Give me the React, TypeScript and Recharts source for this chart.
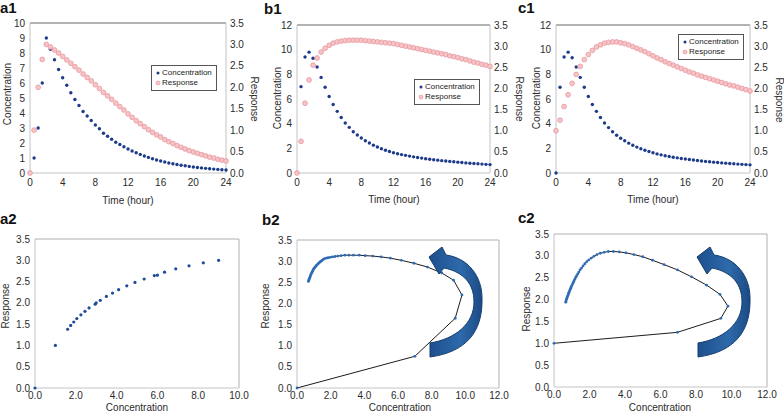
import React from 'react';
import { ScatterChart, Scatter, XAxis, YAxis, ReferenceLine, Legend } from 'recharts';

// sampling times (hours)
const time = [0, 0.5, 1, 1.5, 2, 2.5, 3, 3.5, 4, 4.5, 5, 5.5, 6, 6.5, 7, 7.5, 8, 8.5, 9, 9.5, 10, 10.5, 11, 11.5, 12,
  12.5, 13, 13.5, 14, 14.5, 15, 15.5, 16, 16.5, 17, 17.5, 18, 18.5, 19, 19.5, 20, 20.5, 21, 21.5, 22, 22.5, 23, 23.5, 24];

// panel a: direct response
const a1Conc = [0, 1, 3, 6, 9, 8.25, 7.55, 6.9, 6.35, 5.85, 5.35, 4.9, 4.5, 4.1, 3.8, 3.5, 3.2, 2.95, 2.65, 2.45, 2.25, 2.05, 1.9, 1.75, 1.6,
  1.47, 1.35, 1.24, 1.13, 1.04, 0.95, 0.87, 0.8, 0.73, 0.67, 0.62, 0.57, 0.52, 0.48, 0.44, 0.4, 0.37, 0.34, 0.31, 0.28, 0.26, 0.24, 0.22, 0.2];
const a1Resp = [0, 1.0, 2.0, 2.65, 3.0, 2.94, 2.87, 2.8, 2.72, 2.64, 2.56, 2.48, 2.4, 2.31, 2.23, 2.15, 2.06, 1.97, 1.88, 1.8, 1.72, 1.63, 1.55, 1.47, 1.38,
  1.3, 1.22, 1.15, 1.08, 1.01, 0.95, 0.89, 0.84, 0.78, 0.73, 0.69, 0.64, 0.6, 0.56, 0.52, 0.49, 0.46, 0.43, 0.4, 0.37, 0.35, 0.32, 0.3, 0.28];

// panel b: delayed response, baseline 0
const b1Conc = [0, 7.0, 9.4, 9.8, 9.3, 8.6, 7.75, 6.95, 6.2, 5.55, 5.0, 4.5, 4.05, 3.7, 3.35, 3.08, 2.84, 2.62, 2.43, 2.26, 2.11, 1.97, 1.85, 1.74, 1.64,
  1.56, 1.49, 1.43, 1.37, 1.31, 1.26, 1.21, 1.16, 1.12, 1.08, 1.04, 1.0, 0.97, 0.94, 0.91, 0.88, 0.85, 0.82, 0.79, 0.77, 0.75, 0.72, 0.7, 0.68];
const b1Resp = [0, 0.75, 1.65, 2.2, 2.55, 2.72, 2.86, 2.95, 3.02, 3.07, 3.1, 3.12, 3.13, 3.14, 3.14, 3.14, 3.14, 3.13, 3.12, 3.11, 3.1, 3.09, 3.08, 3.07, 3.06,
  3.04, 3.02, 3.0, 2.98, 2.96, 2.94, 2.92, 2.9, 2.88, 2.86, 2.84, 2.82, 2.8, 2.77, 2.75, 2.73, 2.7, 2.68, 2.65, 2.62, 2.6, 2.57, 2.55, 2.52];

// panel c: delayed response, baseline 1
const c1Conc = [0, 6.95, 9.4, 9.8, 9.35, 8.6, 7.75, 6.95, 6.2, 5.55, 5.0, 4.5, 4.05, 3.68, 3.35, 3.06, 2.82, 2.61, 2.42, 2.25, 2.1, 1.97, 1.85, 1.74, 1.64,
  1.55, 1.47, 1.4, 1.34, 1.28, 1.23, 1.18, 1.13, 1.09, 1.05, 1.01, 0.97, 0.94, 0.91, 0.88, 0.85, 0.82, 0.8, 0.77, 0.75, 0.72, 0.7, 0.68, 0.66];
const c1Resp = [1.0, 1.25, 1.57, 1.85, 2.12, 2.33, 2.52, 2.68, 2.8, 2.9, 2.98, 3.03, 3.07, 3.09, 3.1, 3.1, 3.08, 3.06, 3.03, 2.99, 2.95, 2.91, 2.87, 2.82, 2.77,
  2.72, 2.68, 2.63, 2.59, 2.55, 2.51, 2.47, 2.43, 2.39, 2.36, 2.32, 2.29, 2.26, 2.23, 2.2, 2.17, 2.14, 2.11, 2.08, 2.06, 2.03, 2.0, 1.97, 1.94];

const timeTicks = [0, 4, 8, 12, 16, 20, 24];
const concTicksA = [0, 1, 2, 3, 4, 5, 6, 7, 8, 9, 10];
const concTicksB = [0, 2, 4, 6, 8, 10, 12];
const respTicks = [0, 0.5, 1, 1.5, 2, 2.5, 3, 3.5];
const concAxisA2 = [0, 2, 4, 6, 8, 10];
const concAxisB2 = [0, 2, 4, 6, 8, 10, 12];

const FONT = '"Liberation Sans", Arial, sans-serif';
const INK = '#2b2b2b';
const AXIS = '#c4c4c4';
const tick = { fontSize: 10, fill: INK };

const pair = (xs: number[], ys: number[]) => xs.map((x, i) => ({ x, y: ys[i] }));
const fix1 = (v: number) => v.toFixed(1);

const ConcDot = (p: any) => <circle cx={p.cx} cy={p.cy} r={1.7} fill="#1d3b8b" />;
const RespDot = (p: any) => (
  <circle cx={p.cx} cy={p.cy} r={2.4} fill="#f6c4c7" stroke="#e58f96" strokeWidth={0.7} />
);
const LoopDot = (p: any) => <circle cx={p.cx} cy={p.cy} r={1.4} fill="#2f6bb4" />;
const A2Dot = (p: any) => <circle cx={p.cx} cy={p.cy} r={1.6} fill="#1f4b9a" />;

const LegendBox = () => (
  <div style={{ border: '1.5px solid #555', background: '#fff', padding: '2px 4px 2px 2px', fontSize: 8, lineHeight: '10px', color: '#222', width: 'max-content' }}>
    <div style={{ display: 'flex', alignItems: 'center' }}>
      <svg width={8} height={10}><circle cx={4} cy={5} r={1.5} fill="#1d3b8b" /></svg>
      <span>Concentration</span>
    </div>
    <div style={{ display: 'flex', alignItems: 'center' }}>
      <svg width={8} height={10}><circle cx={4} cy={5} r={2} fill="#f6c4c7" stroke="#e58f96" strokeWidth={0.6} /></svg>
      <span>Response</span>
    </div>
  </div>
);

interface TimeProps {
  left: number; width: number; yLeft: number; yRight: number; top: number;
  cMax: number; cTicks: number[]; conc: number[]; resp: number[]; lx: number; ly: number;
}

const TimePanel: React.FC<TimeProps> = ({ left, width, yLeft, yRight, top, cMax, cTicks, conc, resp, lx, ly }) => (
  <div style={{ position: 'absolute', left, top: 0 }}>
    <ScatterChart width={width} height={210} margin={{ top, right: 0, bottom: 0, left: 0 }}>
      <XAxis type="number" dataKey="x" domain={[0, 24]} ticks={timeTicks} interval={0} height={37} tickLine={false}
        tickSize={4} tickMargin={2} axisLine={{ stroke: AXIS }} tick={tick} />
      <YAxis yAxisId="c" type="number" dataKey="y" domain={[0, cMax]} ticks={cTicks} interval={0} width={yLeft} tickLine={false}
        tickSize={3} tickMargin={2} axisLine={{ stroke: AXIS }} tick={tick} />
      <YAxis yAxisId="r" orientation="right" type="number" dataKey="y" domain={[0, 3.5]} ticks={respTicks} interval={0} width={yRight}
        tickLine={false} tickSize={2} tickMargin={2} axisLine={{ stroke: AXIS }} tick={tick} tickFormatter={fix1} />
      <ReferenceLine yAxisId="c" y={cMax} stroke="#9a9a9a" strokeWidth={1.5} />
      <Legend layout="horizontal" verticalAlign="middle" align="center" content={() => <LegendBox />}
        wrapperStyle={{ left: lx, top: ly, width: 'auto', height: 'auto' }} />
      <Scatter name="Concentration" yAxisId="c" data={pair(time, conc)} shape={ConcDot} isAnimationActive={false} />
      <Scatter name="Response" yAxisId="r" data={pair(time, resp)} shape={RespDot} isAnimationActive={false} />
    </ScatterChart>
  </div>
);

interface LoopProps {
  left: number; width: number; yWidth: number; right: number; top: number; xH: number;
  xMax: number; xTicks: number[]; points: { x: number; y: number }[]; joined: boolean;
}

const LoopPanel: React.FC<LoopProps> = ({ left, width, yWidth, right, top, xH, xMax, xTicks, points, joined }) => (
  <div style={{ position: 'absolute', left, top: 210 }}>
    <ScatterChart width={width} height={204} margin={{ top, right, bottom: 0, left: 0 }}>
      <XAxis type="number" dataKey="x" domain={[0, xMax]} ticks={xTicks} interval={0} height={xH} tickLine={false}
        tickSize={2} tickMargin={2} axisLine={{ stroke: AXIS }} tick={tick} tickFormatter={fix1} />
      <YAxis type="number" dataKey="y" domain={[0, 3.5]} ticks={respTicks} interval={0} width={yWidth} tickLine={false}
        tickSize={3} tickMargin={2} axisLine={{ stroke: AXIS }} tick={tick} tickFormatter={fix1} />
      <ReferenceLine y={3.5} stroke="#b0b0b0" />
      <ReferenceLine x={xMax} stroke="#b0b0b0" />
      <Scatter data={points} shape={joined ? LoopDot : A2Dot}
        line={joined ? { stroke: '#1c1c1c', strokeWidth: 1 } : undefined} isAnimationActive={false} />
    </ScatterChart>
  </div>
);

const arrowPath =
  'M429,257 L442,247 L446,255 C468,258 482,276 482,298 C483,332 466,352 430,357 L430,343 ' +
  'C455,339 474,324 474,302 C474,284 464,272 444,268 L439,274 Z';

const Title = ({ x, y, rot = 0, children }: { x: number; y: number; rot?: number; children: string }) => (
  <text x={x} y={y} textAnchor="middle" dominantBaseline="central" fontSize={10} fill={INK}
    transform={rot ? `rotate(${rot}, ${x}, ${y})` : undefined}>{children}</text>
);

const Tag = ({ x, y, children }: { x: number; y: number; children: string }) => (
  <text x={x} y={y} fontSize={15} fontWeight="bold" fill="#111">{children}</text>
);

export default function App() {
  const a2Points = pair(a1Conc.slice(0, 25), a1Resp.slice(0, 25));
  return (
    <div style={{ position: 'absolute', left: 0, top: 0, width: 784, height: 414, background: '#fff', fontFamily: FONT, overflow: 'hidden' }}>
      <TimePanel left={0} width={262} yLeft={30} yRight={36} top={23} cMax={10} cTicks={concTicksA}
        conc={a1Conc} resp={a1Resp} lx={151} ly={65} />
      <TimePanel left={262} width={262} yLeft={35} yRight={34} top={25} cMax={12} cTicks={concTicksB}
        conc={b1Conc} resp={b1Resp} lx={152} ly={79} />
      <TimePanel left={524} width={260} yLeft={32} yRight={34} top={25} cMax={12} cTicks={concTicksB}
        conc={c1Conc} resp={c1Resp} lx={154} ly={34} />

      <LoopPanel left={0} width={262} yWidth={35} right={23} top={29} xH={26} xMax={10} xTicks={concAxisA2}
        points={a2Points} joined={false} />
      <LoopPanel left={262} width={262} yWidth={35} right={25} top={30} xH={26} xMax={12} xTicks={concAxisB2}
        points={pair(b1Conc, b1Resp)} joined />
      <LoopPanel left={524} width={260} yWidth={30} right={17} top={24} xH={27} xMax={12} xTicks={concAxisB2}
        points={pair(c1Conc, c1Resp)} joined />

      <svg width={784} height={414} style={{ position: 'absolute', left: 0, top: 0, pointerEvents: 'none' }}>
        <Tag x={0} y={13}>a1</Tag>
        <Tag x={264} y={14}>b1</Tag>
        <Tag x={518} y={13}>c1</Tag>
        <Tag x={0} y={224}>a2</Tag>
        <Tag x={262} y={225}>b2</Tag>
        <Tag x={518} y={223}>c2</Tag>

        <Title x={7} y={94} rot={-90}>Concentration</Title>
        <Title x={254} y={99} rot={90}>Response</Title>
        <Title x={128} y={200}>Time (hour)</Title>
        <Title x={277} y={98} rot={-90}>Concentration</Title>
        <Title x={519} y={99} rot={90}>Response</Title>
        <Title x={394} y={199}>Time (hour)</Title>
        <Title x={536} y={98} rot={-90}>Concentration</Title>
        <Title x={779} y={100} rot={90}>Response</Title>
        <Title x={653} y={199}>Time (hour)</Title>

        <Title x={5} y={306} rot={-90}>Response</Title>
        <Title x={137} y={407}>Concentration</Title>
        <Title x={265} y={306} rot={-90}>Response</Title>
        <Title x={400} y={407}>Concentration</Title>
        <Title x={526} y={309} rot={-90}>Response</Title>
        <Title x={660} y={407}>Concentration</Title>

        <defs>
          <linearGradient id="arrowFill" x1="0" y1="0" x2="1" y2="0">
            <stop offset="0%" stopColor="#1d4f8c" />
            <stop offset="60%" stopColor="#2e6aab" />
            <stop offset="100%" stopColor="#1b4a84" />
          </linearGradient>
        </defs>
        <path d={arrowPath} fill="url(#arrowFill)" stroke="#163d6e" strokeWidth={1} />
        <g transform="translate(268,0)">
          <path d={arrowPath} fill="url(#arrowFill)" stroke="#163d6e" strokeWidth={1} />
        </g>
      </svg>
    </div>
  );
}
